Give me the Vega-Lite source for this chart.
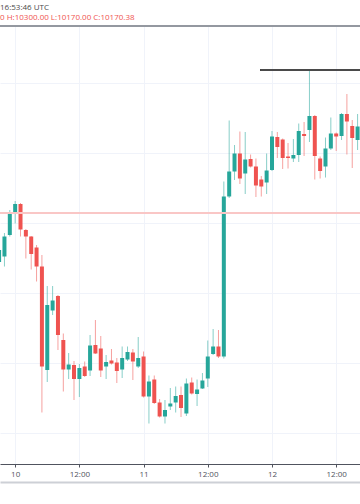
{
  "$schema": "https://vega.github.io/schema/vega-lite/v6.json",
  "width": 360,
  "height": 438,
  "autosize": "none",
  "padding": {"top": 26, "left": 0, "right": 0, "bottom": 40},
  "background": "white",
  "title": {
    "text": "16:53:46 UTC",
    "subtitle": "0 H:10300.00 L:10170.00 C:10170.38",
    "anchor": "start",
    "frame": "group",
    "offset": 3,
    "font": "Open Sans",
    "fontSize": 8,
    "fontWeight": "normal",
    "color": "#4a4a4a",
    "subtitleFont": "Open Sans",
    "subtitleFontSize": 8,
    "subtitleColor": "#ef5350",
    "subtitlePadding": 2
  },
  "config": {"view": {"stroke": null}},
  "data": {
    "values": [
      {"t": "2019-09-09T21:00:00Z", "o": 10072, "h": 10106, "l": 10060, "c": 10096},
      {"t": "2019-09-09T22:00:00Z", "o": 10083, "h": 10130, "l": 10063, "c": 10123},
      {"t": "2019-09-09T23:00:00Z", "o": 10126, "h": 10176, "l": 10123, "c": 10169},
      {"t": "2019-09-10T00:00:00Z", "o": 10169, "h": 10194, "l": 10149, "c": 10188},
      {"t": "2019-09-10T01:00:00Z", "o": 10188, "h": 10190, "l": 10123, "c": 10137},
      {"t": "2019-09-10T02:00:00Z", "o": 10136, "h": 10138, "l": 10079, "c": 10123},
      {"t": "2019-09-10T03:00:00Z", "o": 10123, "h": 10124, "l": 10057, "c": 10088},
      {"t": "2019-09-10T04:00:00Z", "o": 10101, "h": 10106, "l": 10033, "c": 10063},
      {"t": "2019-09-10T05:00:00Z", "o": 10063, "h": 10086, "l": 9771, "c": 9863},
      {"t": "2019-09-10T06:00:00Z", "o": 9856, "h": 10024, "l": 9832, "c": 9986},
      {"t": "2019-09-10T07:00:00Z", "o": 9975, "h": 10024, "l": 9966, "c": 9995},
      {"t": "2019-09-10T08:00:00Z", "o": 10004, "h": 10006, "l": 9896, "c": 9926},
      {"t": "2019-09-10T09:00:00Z", "o": 9916, "h": 9929, "l": 9813, "c": 9857},
      {"t": "2019-09-10T10:00:00Z", "o": 9857, "h": 9890, "l": 9838, "c": 9867},
      {"t": "2019-09-10T11:00:00Z", "o": 9866, "h": 9874, "l": 9796, "c": 9838},
      {"t": "2019-09-10T12:00:00Z", "o": 9838, "h": 9868, "l": 9802, "c": 9860},
      {"t": "2019-09-10T13:00:00Z", "o": 9863, "h": 9873, "l": 9842, "c": 9844},
      {"t": "2019-09-10T14:00:00Z", "o": 9855, "h": 9926, "l": 9844, "c": 9905},
      {"t": "2019-09-10T15:00:00Z", "o": 9906, "h": 9956, "l": 9888, "c": 9889},
      {"t": "2019-09-10T16:00:00Z", "o": 9899, "h": 9924, "l": 9842, "c": 9855},
      {"t": "2019-09-10T17:00:00Z", "o": 9863, "h": 9886, "l": 9838, "c": 9872},
      {"t": "2019-09-10T18:00:00Z", "o": 9875, "h": 9898, "l": 9867, "c": 9869},
      {"t": "2019-09-10T19:00:00Z", "o": 9871, "h": 9880, "l": 9830, "c": 9854},
      {"t": "2019-09-10T20:00:00Z", "o": 9857, "h": 9903, "l": 9840, "c": 9880},
      {"t": "2019-09-10T21:00:00Z", "o": 9877, "h": 9903, "l": 9874, "c": 9892},
      {"t": "2019-09-10T22:00:00Z", "o": 9891, "h": 9898, "l": 9836, "c": 9873},
      {"t": "2019-09-10T23:00:00Z", "o": 9863, "h": 9922, "l": 9860, "c": 9880},
      {"t": "2019-09-11T00:00:00Z", "o": 9883, "h": 9893, "l": 9801, "c": 9803},
      {"t": "2019-09-11T01:00:00Z", "o": 9803, "h": 9845, "l": 9749, "c": 9833},
      {"t": "2019-09-11T02:00:00Z", "o": 9837, "h": 9845, "l": 9788, "c": 9790},
      {"t": "2019-09-11T03:00:00Z", "o": 9791, "h": 9798, "l": 9761, "c": 9763},
      {"t": "2019-09-11T04:00:00Z", "o": 9763, "h": 9796, "l": 9749, "c": 9776},
      {"t": "2019-09-11T05:00:00Z", "o": 9783, "h": 9820, "l": 9776, "c": 9789},
      {"t": "2019-09-11T06:00:00Z", "o": 9791, "h": 9823, "l": 9771, "c": 9804},
      {"t": "2019-09-11T07:00:00Z", "o": 9806, "h": 9823, "l": 9762, "c": 9780},
      {"t": "2019-09-11T08:00:00Z", "o": 9769, "h": 9839, "l": 9764, "c": 9829},
      {"t": "2019-09-11T09:00:00Z", "o": 9831, "h": 9841, "l": 9807, "c": 9809},
      {"t": "2019-09-11T10:00:00Z", "o": 9808, "h": 9837, "l": 9784, "c": 9817},
      {"t": "2019-09-11T11:00:00Z", "o": 9819, "h": 9850, "l": 9818, "c": 9835},
      {"t": "2019-09-11T12:00:00Z", "o": 9839, "h": 9915, "l": 9822, "c": 9883},
      {"t": "2019-09-11T13:00:00Z", "o": 9888, "h": 9938, "l": 9886, "c": 9903},
      {"t": "2019-09-11T14:00:00Z", "o": 9903, "h": 9936, "l": 9880, "c": 9883},
      {"t": "2019-09-11T15:00:00Z", "o": 9883, "h": 10233, "l": 9879, "c": 10203},
      {"t": "2019-09-11T16:00:00Z", "o": 10203, "h": 10355, "l": 10200, "c": 10253},
      {"t": "2019-09-11T17:00:00Z", "o": 10253, "h": 10306, "l": 10236, "c": 10289},
      {"t": "2019-09-11T18:00:00Z", "o": 10289, "h": 10333, "l": 10228, "c": 10239},
      {"t": "2019-09-11T19:00:00Z", "o": 10249, "h": 10332, "l": 10208, "c": 10277},
      {"t": "2019-09-11T20:00:00Z", "o": 10278, "h": 10287, "l": 10261, "c": 10263},
      {"t": "2019-09-11T21:00:00Z", "o": 10263, "h": 10279, "l": 10202, "c": 10225},
      {"t": "2019-09-11T22:00:00Z", "o": 10237, "h": 10244, "l": 10203, "c": 10223},
      {"t": "2019-09-11T23:00:00Z", "o": 10231, "h": 10289, "l": 10208, "c": 10255},
      {"t": "2019-09-12T00:00:00Z", "o": 10256, "h": 10334, "l": 10254, "c": 10323},
      {"t": "2019-09-12T01:00:00Z", "o": 10322, "h": 10332, "l": 10280, "c": 10302},
      {"t": "2019-09-12T02:00:00Z", "o": 10317, "h": 10319, "l": 10258, "c": 10280},
      {"t": "2019-09-12T03:00:00Z", "o": 10283, "h": 10310, "l": 10259, "c": 10280},
      {"t": "2019-09-12T04:00:00Z", "o": 10279, "h": 10318, "l": 10272, "c": 10286},
      {"t": "2019-09-12T05:00:00Z", "o": 10286, "h": 10349, "l": 10272, "c": 10334},
      {"t": "2019-09-12T06:00:00Z", "o": 10328, "h": 10352, "l": 10284, "c": 10324},
      {"t": "2019-09-12T07:00:00Z", "o": 10336, "h": 10454, "l": 10312, "c": 10364},
      {"t": "2019-09-12T08:00:00Z", "o": 10364, "h": 10366, "l": 10237, "c": 10284},
      {"t": "2019-09-12T09:00:00Z", "o": 10279, "h": 10283, "l": 10239, "c": 10254},
      {"t": "2019-09-12T10:00:00Z", "o": 10263, "h": 10321, "l": 10241, "c": 10299},
      {"t": "2019-09-12T11:00:00Z", "o": 10299, "h": 10361, "l": 10296, "c": 10329},
      {"t": "2019-09-12T12:00:00Z", "o": 10329, "h": 10331, "l": 10294, "c": 10323},
      {"t": "2019-09-12T13:00:00Z", "o": 10324, "h": 10370, "l": 10316, "c": 10368},
      {"t": "2019-09-12T14:00:00Z", "o": 10368, "h": 10408, "l": 10287, "c": 10353},
      {"t": "2019-09-12T15:00:00Z", "o": 10344, "h": 10356, "l": 10260, "c": 10320},
      {"t": "2019-09-12T16:00:00Z", "o": 10316, "h": 10368, "l": 10296, "c": 10343}
    ]
  },
  "layer": [
    {
      "mark": {"type": "rule", "strokeWidth": 1, "opacity": 0.55},
      "encoding": {
        "x": {
          "field": "t", "type": "temporal",
          "scale": {"type": "utc", "padding": 0, "domain": [
            {"year": 2019, "month": 9, "date": 9, "hours": 21, "minutes": 10, "utc": true},
            {"year": 2019, "month": 9, "date": 12, "hours": 16, "minutes": 27, "utc": true}
          ]},
          "axis": {
            "orient": "bottom",
            "title": null,
            "values": [
              {"year": 2019, "month": 9, "date": 10, "hours": 0, "utc": true},
              {"year": 2019, "month": 9, "date": 10, "hours": 12, "utc": true},
              {"year": 2019, "month": 9, "date": 11, "hours": 0, "utc": true},
              {"year": 2019, "month": 9, "date": 11, "hours": 12, "utc": true},
              {"year": 2019, "month": 9, "date": 12, "hours": 0, "utc": true},
              {"year": 2019, "month": 9, "date": 12, "hours": 12, "utc": true}
            ],
            "labelExpr": "utchours(datum.value) == 0 ? utcFormat(datum.value, '%-d') : '12:00'",
            "grid": true,
            "gridColor": "#f0f3fa",
            "domainColor": "#50535e",
            "tickColor": "#50535e",
            "tickSize": 3,
            "labelColor": "#50535e",
            "labelFont": "Open Sans",
            "labelFontSize": 8,
            "labelPadding": 3,
            "labelFlush": false,
            "labelOverlap": false
          }
        },
        "y": {
          "field": "h", "type": "quantitative",
          "scale": {"domain": [9668, 10544], "nice": false, "zero": false, "padding": 0},
          "axis": {
            "title": null, "labels": false, "ticks": false, "domain": false,
            "grid": true, "gridColor": "#f0f3fa",
            "values": [10500, 10430, 10360, 10290, 10220, 10150, 10080, 10010, 9940, 9870, 9800, 9730]
          }
        },
        "y2": {"field": "l"},
        "color": {"condition": {"test": "datum.o < datum.c", "value": "#26a69a"}, "value": "#ef5350"}
      }
    },
    {
      "mark": {"type": "bar", "size": 4},
      "encoding": {
        "x": {
          "field": "t", "type": "temporal",
          "scale": {"type": "utc", "padding": 0, "domain": [
            {"year": 2019, "month": 9, "date": 9, "hours": 21, "minutes": 10, "utc": true},
            {"year": 2019, "month": 9, "date": 12, "hours": 16, "minutes": 27, "utc": true}
          ]},
          "axis": {
            "orient": "bottom", "offset": 18, "title": null,
            "labels": false, "ticks": false, "grid": false,
            "domainColor": "#cdd0d6", "domainWidth": 2
          }
        },
        "y": {"field": "o", "type": "quantitative", "scale": {"domain": [9668, 10544], "nice": false, "zero": false, "padding": 0}},
        "y2": {"field": "c"},
        "color": {"condition": {"test": "datum.o < datum.c", "value": "#26a69a"}, "value": "#ef5350"}
      }
    },
    {
      "mark": {"type": "rule", "color": "#f9c6c5", "strokeWidth": 1},
      "encoding": {
        "y": {"datum": 10170, "type": "quantitative", "scale": {"domain": [9668, 10544], "nice": false, "zero": false, "padding": 0}}
      }
    },
    {
      "mark": {"type": "rule", "color": "#9598a1", "strokeWidth": 1.5},
      "encoding": {
        "y": {"datum": 10544, "type": "quantitative", "scale": {"domain": [9668, 10544], "nice": false, "zero": false, "padding": 0}}
      }
    },
    {
      "mark": {"type": "rule", "color": "#4a4a4a", "strokeWidth": 2},
      "encoding": {
        "x": {"datum": {"year": 2019, "month": 9, "date": 11, "hours": 21, "minutes": 56, "utc": true}, "type": "temporal", "axis": null,
          "scale": {"type": "utc", "padding": 0, "domain": [
            {"year": 2019, "month": 9, "date": 9, "hours": 21, "minutes": 10, "utc": true},
            {"year": 2019, "month": 9, "date": 12, "hours": 16, "minutes": 27, "utc": true}
          ]}},
        "x2": {"datum": {"year": 2019, "month": 9, "date": 12, "hours": 16, "minutes": 27, "utc": true}},
        "y": {"datum": 10456, "type": "quantitative", "scale": {"domain": [9668, 10544], "nice": false, "zero": false, "padding": 0}}
      }
    }
  ],
  "resolve": {"axis": {"x": "independent"}}
}
